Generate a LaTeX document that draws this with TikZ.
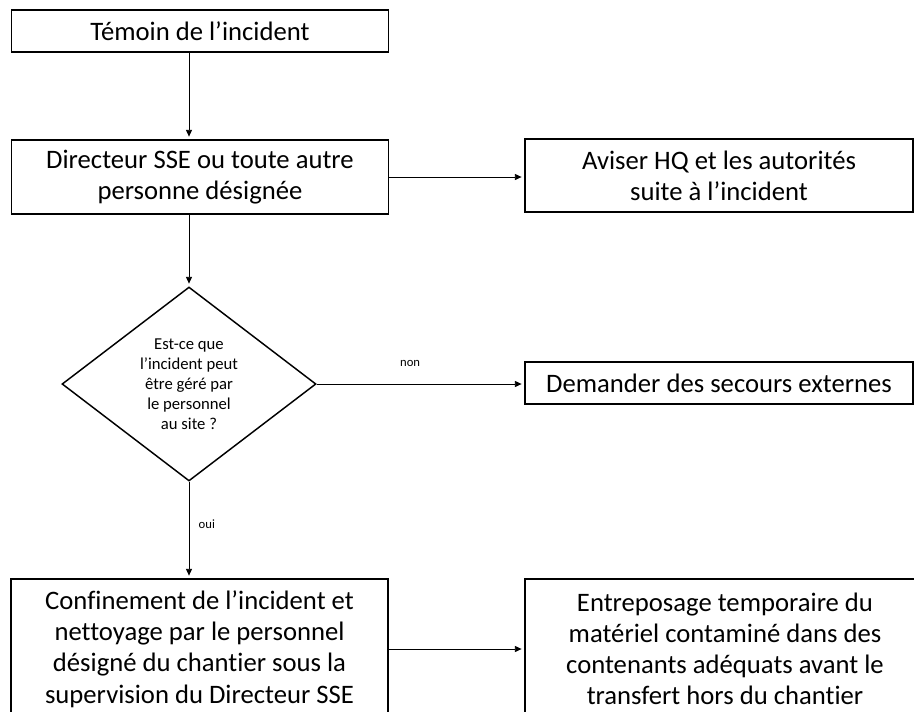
\documentclass[tikz,border=0pt]{standalone}
\usepackage{fontspec}
\setmainfont[Ligatures=NoCommon]{Carlito}
\usetikzlibrary{arrows.meta,shapes.geometric}

\begin{document}
\begin{tikzpicture}
	[->,>={Triangle[length=5pt,width=4.5pt]},shorten >=2pt,auto,
		x=0.75pt,y=-0.75pt,line width=0.6pt,
		box/.style={rectangle,draw,line width=1.1pt,align=center,inner sep=0pt,
			font=\fontsize{20}{23.4}\selectfont},
		question/.style={diamond,draw,line width=1.1pt,align=center,inner sep=0pt,
			minimum width=190.5pt,minimum height=145.5pt,font=\fontsize{12.5}{15}\selectfont},
		answer/.style={inner sep=0pt,font=\fontsize{9.5}{11}\selectfont}]

	\clip (0,0) rectangle (914,711);

	\node[box, minimum width=282.75pt, minimum height=31.5pt]  (temoin)      at (200,31)    {Témoin de l’incident};
	\node[box, minimum width=282.75pt, minimum height=55.5pt]  (directeur)   at (200,177)   {Directeur SSE ou toute autre\\personne désignée};
	\node[box, minimum width=291pt,    minimum height=54.75pt] (aviser)      at (719,175.5) {Aviser HQ et les autorités\\suite à l’incident};
	\node[question]                                            (decision)    at (189,384)   {Est-ce que\\l’incident peut\\être géré par\\le personnel\\au site ?};
	\node[box, minimum width=291pt,    minimum height=31.5pt]  (demander)    at (719,383)   {Demander des secours externes};
	\node[box, minimum width=282.75pt, minimum height=105pt]   (confinement) at (199.5,649) {Confinement de l’incident et\\nettoyage par le personnel\\désigné du chantier sous la\\supervision du Directeur SSE};
	\node[box, minimum width=300pt,    minimum height=105pt]   (entreposage) at (725,649)   {Entreposage temporaire du\\matériel contaminé dans des\\contenants adéquats avant le\\transfert hors du chantier};

	\path
	(temoin.south -| decision.north) edge (directeur.north -| decision.north)
	(directeur.east) edge (directeur.east -| aviser.west)
	(directeur.south -| decision.north) edge (decision.north)
	(decision.east) edge node[answer, above=13pt, pos=0.45] {non} (decision.east -| demander.west)
	(decision.south) edge node[answer, right=7pt, pos=0.44] {oui} (confinement.north -| decision.south)
	(confinement.east) edge (entreposage.west)
	;

\end{tikzpicture}
\end{document}
